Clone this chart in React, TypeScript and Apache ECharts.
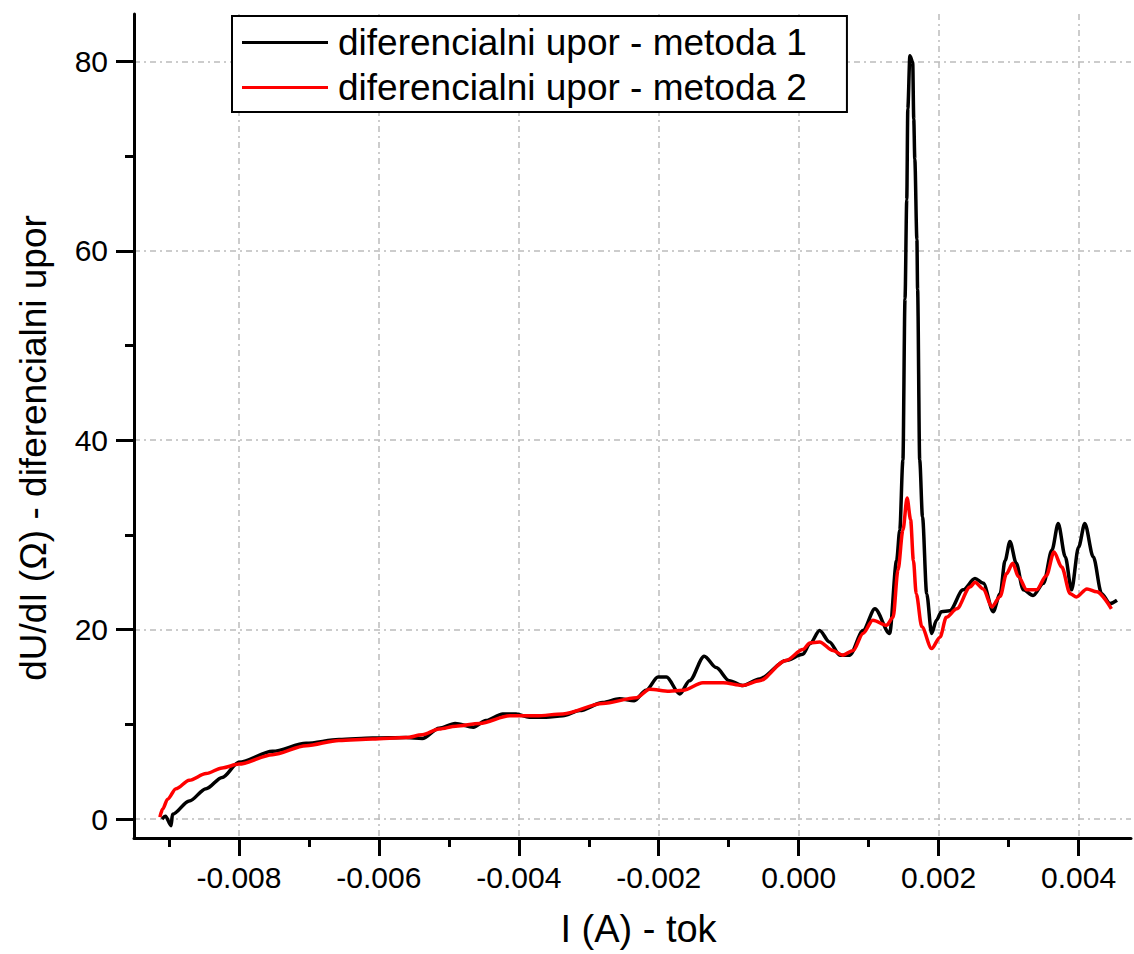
import React, { useEffect, useRef } from "react";
import * as echarts from "echarts";

const FONT = "'Liberation Sans', Arial, sans-serif";

// x tick values (A)
const xMajorTicks = [-0.008, -0.006, -0.004, -0.002, 0.0, 0.002, 0.004];
const xMinorTicks = [-0.009, -0.007, -0.005, -0.003, -0.001, 0.001, 0.003];
// y tick values (Ohm)
const yMajorTicks = [0, 20, 40, 60, 80];
const yMinorTicks = [10, 30, 50, 70];

const seriesNames = [
  "diferencialni upor - metoda 1",
  "diferencialni upor - metoda 2",
];

// metoda 1 (black): [I (A), dU/dI (Ohm)]
const metoda1: [number, number][] = [
  [-0.0091, 0.0], [-0.00905, 0.3], [-0.00897, -0.7], [-0.00895, 0.5],
  [-0.00871, 1.9], [-0.00847, 3.2], [-0.00824, 4.4], [-0.008, 6.0],
  [-0.00752, 7.15], [-0.00704, 8.0], [-0.00657, 8.4], [-0.00609, 8.55],
  [-0.00561, 8.6], [-0.00538, 8.5], [-0.00514, 9.6], [-0.00491, 10.1],
  [-0.00465, 9.7], [-0.00447, 10.4], [-0.00423, 11.1], [-0.00404, 11.1],
  [-0.00385, 10.75], [-0.00361, 10.75], [-0.00337, 10.9], [-0.00313, 11.45],
  [-0.0028, 12.3], [-0.00256, 12.7], [-0.00235, 12.5], [-0.00218, 13.6],
  [-0.00201, 15.0], [-0.00189, 15.0], [-0.0017, 13.2], [-0.00156, 14.6],
  [-0.00135, 17.2], [-0.00118, 16.0], [-0.00099, 14.6], [-0.0008, 14.1],
  [-0.00056, 14.8], [-0.00018, 16.75], [0.00006, 17.4], [0.00016, 18.5],
  [0.0003, 19.9], [0.00044, 18.7], [0.00059, 17.3], [0.00073, 17.3],
  [0.00092, 19.9], [0.00109, 22.2], [0.0013, 19.6], [0.0014, 27.3],
  [0.001445, 30.5], [0.00149, 37.9], [0.00152, 54.9], [0.001545, 65.4],
  [0.00156, 75.0], [0.00159, 80.6], [0.00163, 79.9], [0.001645, 73.9],
  [0.00166, 69.7], [0.00169, 61.2], [0.0017, 55.9], [0.00173, 37.9],
  [0.00177, 31.9], [0.00183, 23.8], [0.0019, 19.6], [0.00197, 21.0],
  [0.00204, 21.9], [0.00216, 22.0], [0.00235, 24.2], [0.00252, 25.4],
  [0.00264, 24.9], [0.00278, 21.9], [0.00288, 23.8], [0.00295, 27.3],
  [0.00302, 29.3], [0.00311, 27.0], [0.00321, 24.2], [0.00335, 23.6],
  [0.0035, 24.9], [0.00362, 28.4], [0.00371, 31.2], [0.00381, 27.7],
  [0.0039, 24.2], [0.004, 28.7], [0.00409, 31.2], [0.00421, 27.7],
  [0.00433, 23.8], [0.00445, 22.75], [0.00455, 23.1],
];

// metoda 2 (red): [I (A), dU/dI (Ohm)]
const metoda2: [number, number][] = [
  [-0.00913, 0.2], [-0.00909, 1.06], [-0.00902, 2.1], [-0.0089, 3.2],
  [-0.00871, 4.1], [-0.00847, 4.8], [-0.00824, 5.4], [-0.008, 5.8],
  [-0.00752, 6.8], [-0.00704, 7.75], [-0.00657, 8.3], [-0.00609, 8.45],
  [-0.00561, 8.6], [-0.00538, 8.9], [-0.00514, 9.5], [-0.0049, 9.8],
  [-0.00456, 10.1], [-0.00413, 10.9], [-0.00375, 10.9], [-0.00337, 11.1],
  [-0.0028, 12.2], [-0.00232, 12.8], [-0.00213, 13.7], [-0.00185, 13.5],
  [-0.00165, 13.6], [-0.00137, 14.4], [-0.00108, 14.4], [-0.0008, 14.1],
  [-0.00056, 14.6], [-0.00018, 16.75], [0.00006, 17.9], [0.00016, 18.6],
  [0.0003, 18.7], [0.00049, 17.8], [0.00063, 17.3], [0.00078, 17.8],
  [0.00092, 19.6], [0.00106, 21.0], [0.001255, 20.45], [0.00135, 21.3],
  [0.00142, 26.3], [0.00149, 30.5], [0.00155, 33.9], [0.0016, 31.6],
  [0.00164, 27.3], [0.00168, 23.8], [0.00176, 20.3], [0.0019, 18.0],
  [0.00202, 19.2], [0.00211, 21.3], [0.00226, 22.2], [0.00245, 24.5],
  [0.00252, 25.0], [0.00264, 24.3], [0.00276, 22.4], [0.00288, 23.5],
  [0.00297, 25.9], [0.00306, 27.0], [0.00314, 25.6], [0.00326, 24.2],
  [0.0034, 24.2], [0.00354, 25.7], [0.00365, 28.2], [0.00376, 26.6],
  [0.00388, 23.8], [0.00397, 23.45], [0.00412, 24.3], [0.00426, 24.0],
  [0.00447, 22.2],
];

const X_MIN = -0.0095;
const X_MAX = 0.00475;
const Y_MIN = -2;
const Y_MAX = 85;

export default function App() {
  const ref = useRef<HTMLDivElement>(null);

  useEffect(() => {
    if (!ref.current) return;
    const chart = echarts.init(ref.current, undefined, { renderer: "svg" });

    const gridLine = {
      show: true,
      lineStyle: { color: "#bcbcbc", width: 1.5, type: [6, 4, 2, 4] as any },
    };

    const option: any = {
      animation: false,
      backgroundColor: "#ffffff",
      textStyle: { fontFamily: FONT },
      grid: { left: 134, right: 3, top: 14, bottom: 116, containLabel: false },
      legend: {
        show: true,
        orient: "vertical",
        left: 232,
        top: 16,
        padding: [8, 40, 6, 10],
        itemGap: 8,
        itemWidth: 86,
        itemHeight: 3,
        icon: "rect",
        borderColor: "#000",
        borderWidth: 2,
        backgroundColor: "#fff",
        data: seriesNames,
        textStyle: {
          fontFamily: FONT,
          fontSize: 37,
          color: "#000",
          padding: [0, 0, 0, 5],
        },
      },
      xAxis: [
        {
          type: "value",
          min: X_MIN,
          max: X_MAX,
          position: "bottom",
          name: "I (A) - tok",
          nameLocation: "middle",
          nameGap: 72,
          nameTextStyle: {
            fontFamily: FONT,
            fontSize: 38,
            color: "#000",
            padding: [0, 0, 0, 12],
          },
          axisLine: { show: true, onZero: false, lineStyle: { color: "#000", width: 3 } },
          axisTick: {
            show: true,
            inside: false,
            length: 18,
            lineStyle: { color: "#000", width: 3 },
            customValues: xMajorTicks,
          },
          axisLabel: {
            show: true,
            customValues: xMajorTicks,
            formatter: (v: number) => v.toFixed(3),
            fontFamily: FONT,
            fontSize: 30,
            color: "#000",
            margin: 24,
          },
          splitLine: gridLine,
        },
        {
          type: "value",
          min: X_MIN,
          max: X_MAX,
          position: "bottom",
          axisLine: { show: false, onZero: false },
          axisTick: {
            show: true,
            inside: false,
            length: 9,
            lineStyle: { color: "#000", width: 3 },
            customValues: xMinorTicks,
          },
          axisLabel: { show: false },
          splitLine: { show: false },
        },
      ],
      yAxis: [
        {
          type: "value",
          min: Y_MIN,
          max: Y_MAX,
          position: "left",
          name: "dU/dI (Ω) - diferencialni upor",
          nameLocation: "middle",
          nameGap: 82,
          nameTextStyle: {
            fontFamily: FONT,
            fontSize: 37,
            color: "#000",
            padding: [0, 44, 0, 0],
          },
          axisLine: { show: true, onZero: false, lineStyle: { color: "#000", width: 3 } },
          axisTick: {
            show: true,
            inside: false,
            length: 18,
            lineStyle: { color: "#000", width: 3 },
            customValues: yMajorTicks,
          },
          axisLabel: {
            show: true,
            customValues: yMajorTicks,
            fontFamily: FONT,
            fontSize: 30,
            color: "#000",
            margin: 26,
          },
          splitLine: gridLine,
        },
        {
          type: "value",
          min: Y_MIN,
          max: Y_MAX,
          position: "left",
          axisLine: { show: false, onZero: false },
          axisTick: {
            show: true,
            inside: false,
            length: 9,
            lineStyle: { color: "#000", width: 3 },
            customValues: yMinorTicks,
          },
          axisLabel: { show: false },
          splitLine: { show: false },
        },
      ],
      series: [
        {
          name: seriesNames[0],
          type: "line",
          xAxisIndex: 0,
          yAxisIndex: 0,
          data: metoda1,
          showSymbol: false,
          symbol: "none",
          smooth: 0.3,
          smoothMonotone: "x",
          lineStyle: { color: "#000000", width: 3.5 },
          itemStyle: { color: "#000000" },
          z: 2,
        },
        {
          name: seriesNames[1],
          type: "line",
          xAxisIndex: 0,
          yAxisIndex: 0,
          data: metoda2,
          showSymbol: false,
          symbol: "none",
          smooth: 0.3,
          smoothMonotone: "x",
          lineStyle: { color: "#ff0000", width: 3.5 },
          itemStyle: { color: "#ff0000" },
          z: 3,
        },
      ],
    };

    chart.setOption(option);
    return () => chart.dispose();
  }, []);

  return (
    <div
      ref={ref}
      style={{ position: "fixed", left: 0, top: 0, width: 1134, height: 954 }}
    />
  );
}
